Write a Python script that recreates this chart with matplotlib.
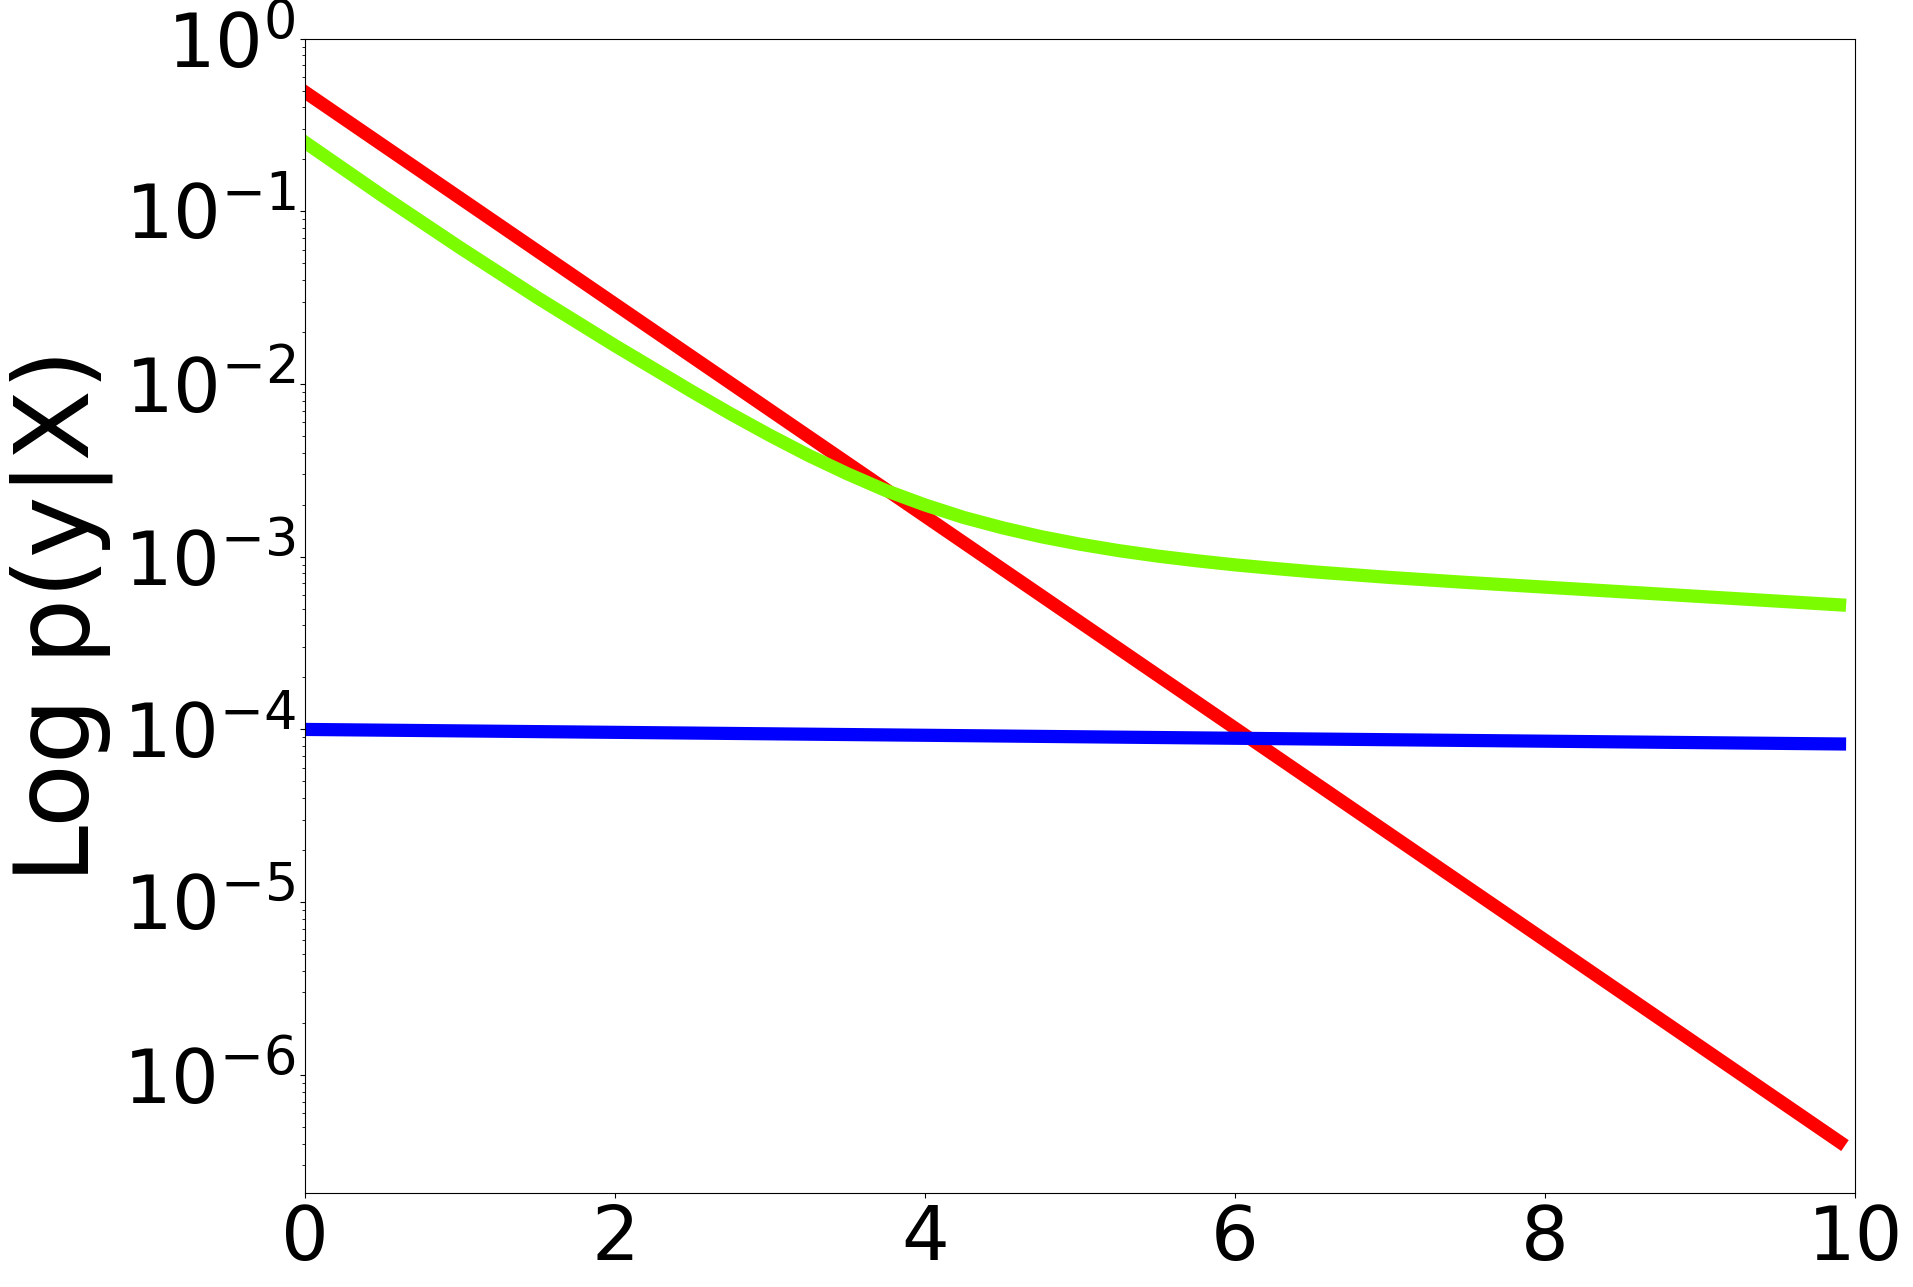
import numpy as np
import matplotlib
matplotlib.use("Agg")
import matplotlib.pyplot as plt

# values (log-scale y)
x_red = [0, 1, 2, 3, 4, 5, 6, 7, 8, 9, 9.9]
y_red = [0.491, 0.1194, 0.02904, 0.007063, 0.001718, 4.178e-4, 1.016e-4,
         2.472e-5, 6.012e-6, 1.462e-6, 4.09e-7]

x_green = [0, 0.5, 1, 1.5, 2, 2.5, 2.75, 3, 3.25, 3.5, 3.75, 4, 4.25, 4.5,
           4.75, 5, 5.25, 5.5, 5.75, 6, 6.25, 6.5, 7, 7.5, 8, 8.5, 9, 9.5, 9.9]
y_green = [0.2512, 0.1230, 0.06166, 0.03162, 0.01669, 9.016e-3, 6.693e-3,
           5.041e-3, 3.856e-3, 3.020e-3, 2.413e-3, 1.995e-3, 1.688e-3,
           1.471e-3, 1.306e-3, 1.182e-3, 1.085e-3, 1.009e-3, 9.484e-4,
           8.974e-4, 8.56e-4, 8.185e-4, 7.586e-4, 7.096e-4, 6.668e-4,
           6.266e-4, 5.888e-4, 5.534e-4, 5.265e-4]

x_blue = [0, 2, 4, 6, 8, 9.9]
y_blue = [1.0e-4, 9.62e-5, 9.25e-5, 8.89e-5, 8.55e-5, 8.24e-5]

fig = plt.figure(figsize=(19.13, 12.87), dpi=100)
ax = fig.add_axes([0.15944, 0.07281, 0.81025, 0.89713])

lw = 9.5
ax.plot(x_red, y_red, color='red', linewidth=lw)
ax.plot(x_green, y_green, color='lawngreen', linewidth=lw)
ax.plot(x_blue, y_blue, color='blue', linewidth=lw)

ax.set_yscale('log')
ax.set_xlim(0, 10)
ax.set_ylim(2.06e-7, 1)
ax.set_xticks([0, 2, 4, 6, 8, 10])
ax.tick_params(axis='both', labelsize=54)

ax.set_ylabel("Log p(y|X)", fontsize=75)
ax.yaxis.set_label_coords(-0.124, 0.5)

fig.savefig("out.png", dpi=100)
